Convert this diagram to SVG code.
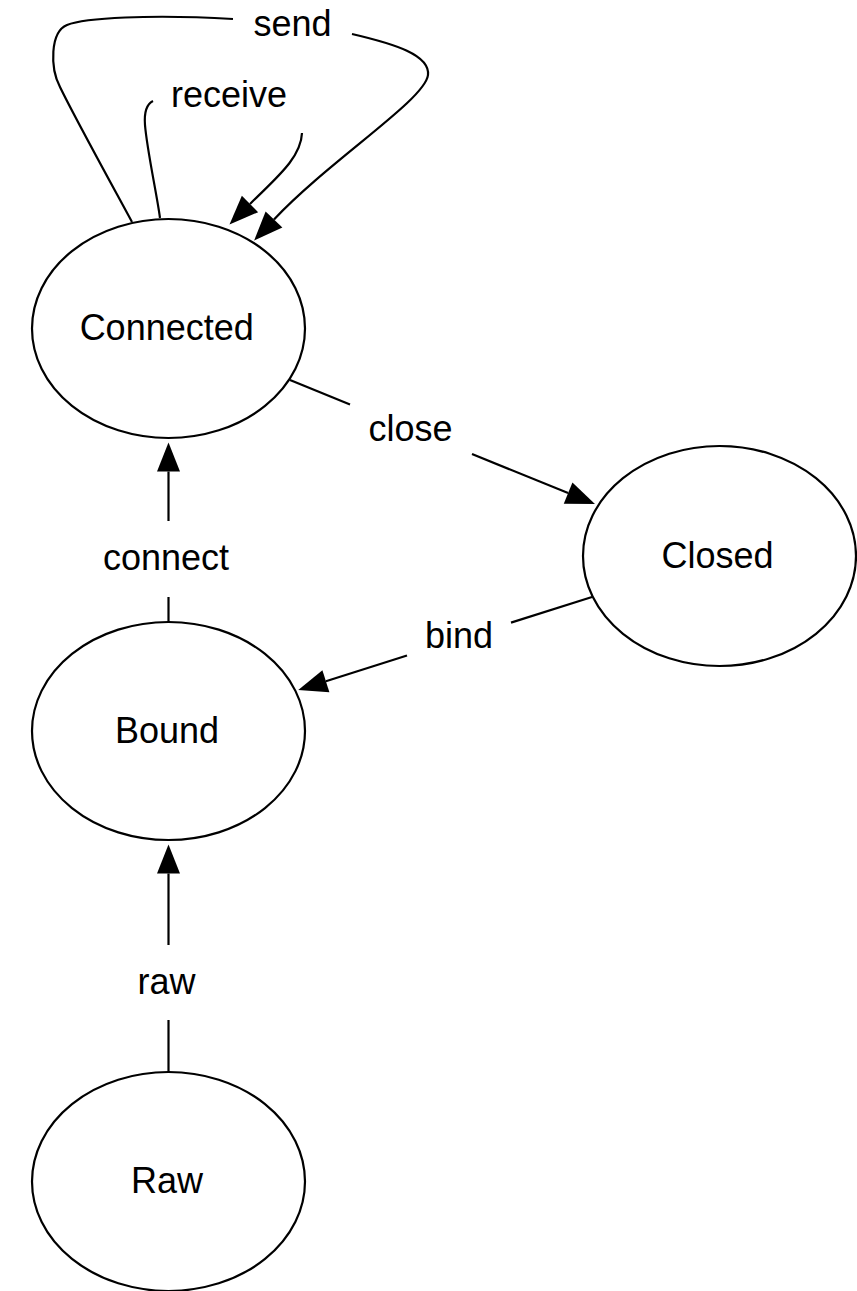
<svg xmlns="http://www.w3.org/2000/svg" width="857" height="1291" viewBox="0 0 857 1291">
  <style>
    .node ellipse { fill: #ffffff; stroke: #000000; stroke-width: 2.2; }
    text { font-family: "Liberation Sans", Arial, Helvetica, sans-serif; font-size: 36px; fill: #000000; text-anchor: middle; }
    .edge { fill: none; stroke: #000000; stroke-width: 2.2; }
    .head { marker-end: url(#arrow); }
  </style>
  <defs>
    <marker id="arrow" markerUnits="userSpaceOnUse" markerWidth="30" markerHeight="24" refX="0" refY="11.5" orient="auto" overflow="visible">
      <path d="M0,0 L29,11.5 L0,23 Z" fill="#000000"/>
    </marker>
  </defs>
  <rect width="857" height="1291" fill="#ffffff"/>

  <!-- transitions -->
  <g id="connectors">
    <!-- send (self loop on Connected) -->
    <g id="edge-send">
      <path class="edge" d="M132,222 C112,185 75,118 60,87 C50,68 50,32 67,25 C84,18 150,14 233,19"/>
      <path class="edge head" d="M352,34 C395,44 430,55 428,75 C425,100 330,160 274,219.5"/>
      <text x="292.5" y="36">send</text>
    </g>
    <!-- receive (self loop on Connected) -->
    <g id="edge-receive">
      <path class="edge" d="M160,218 C157,195 147,150 145,125 C144,112 147,104 153,101"/>
      <path class="edge head" d="M302,133 C301,158 276,178 250,204"/>
      <text x="229" y="107">receive</text>
    </g>
    <!-- close: Connected -> Closed -->
    <g id="edge-close">
      <path class="edge" d="M290,380 L350,404.4"/>
      <path class="edge head" d="M472,454 L568.1,493.1"/>
      <text x="410.5" y="441">close</text>
    </g>
    <!-- bind: Closed -> Bound -->
    <g id="edge-bind">
      <path class="edge" d="M592,597 L511,622.6"/>
      <path class="edge head" d="M407,655.5 L325.9,681.3"/>
      <text x="459" y="648">bind</text>
    </g>
    <!-- connect: Bound -> Connected -->
    <g id="edge-connect">
      <path class="edge" d="M168.5,622 L168.5,597"/>
      <path class="edge head" d="M168.5,521 L168.5,471.5"/>
      <text x="166" y="570">connect</text>
    </g>
    <!-- raw: Raw -> Bound -->
    <g id="edge-raw">
      <path class="edge" d="M168.5,1072 L168.5,1020"/>
      <path class="edge head" d="M168.5,945 L168.5,873.5"/>
      <text x="166.5" y="994">raw</text>
    </g>
  </g>

  <!-- states -->
  <g id="node-connected" class="node">
    <ellipse cx="168.5" cy="328.5" rx="136.5" ry="109.5"/>
    <text x="166.7" y="340">Connected</text>
  </g>
  <g id="node-closed" class="node">
    <ellipse cx="719.5" cy="556" rx="136.5" ry="110"/>
    <text x="717.5" y="567.5">Closed</text>
  </g>
  <g id="node-bound" class="node">
    <ellipse cx="168.5" cy="731" rx="136.5" ry="109"/>
    <text x="167" y="743">Bound</text>
  </g>
  <g id="node-raw" class="node">
    <ellipse cx="168.5" cy="1181.5" rx="136.5" ry="109.5"/>
    <text x="167" y="1193">Raw</text>
  </g>
</svg>
